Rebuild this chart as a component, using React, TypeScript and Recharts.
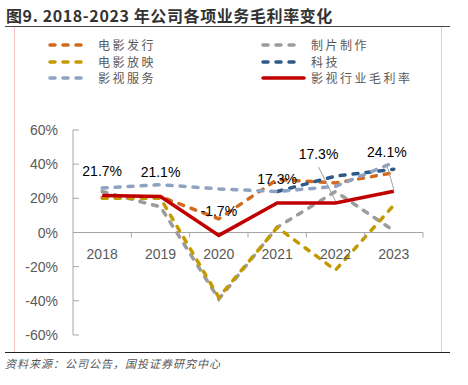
import React from "react";
import {
  LineChart,
  Line,
  XAxis,
  YAxis,
  Legend,
  ReferenceLine,
  LabelList,
} from "recharts";

const years = ["2018", "2019", "2020", "2021", "2022", "2023"];
const filmDistribution = [20.5, 21, 8, 31, 29, 35];
const filmProduction = [24, 15, -39, 3, 24, 1];
const filmScreening = [20, 20, -38, 3, -22, 16];
const technology = [null, null, null, 24, 33, 37];
const filmServices = [26, 28, 25.5, 24, 27, 41];
const industryMargin = [21.7, 21.1, -1.7, 17.3, 17.3, 24.1];
const yTicks = [-60, -40, -20, 0, 20, 40, 60];
const legendOrder = ["电影发行", "制片制作", "电影放映", "科技", "影视服务", "影视行业毛利率"];

const chartData = years.map((year, i) => ({
  year,
  dist: filmDistribution[i],
  prod: filmProduction[i],
  screen: filmScreening[i],
  tech: technology[i],
  service: filmServices[i],
  industry: industryMargin[i],
}));

const W = 468;
const H = 385;
const M = { top: 130, right: 45, bottom: 30, left: 13 };
const Y_AXIS_W = 60;
const X_AXIS_H = 20;
const PLOT_H = H - M.top - M.bottom - X_AXIS_H;
const PLOT_W = W - M.left - M.right - Y_AXIS_W;
const ZERO_Y = M.top + PLOT_H / 2;
const BAND = PLOT_W / years.length;

const AXIS_GREY = "#A6A6A6";
const TEXT_GREY = "#595959";
const FONT = "'Liberation Sans', Arial, sans-serif";
const CJK = "'Noto Sans CJK SC', sans-serif";

const XTick = (props: any) => {
  const { x, payload } = props;
  return (
    <g>
      <line x1={x + BAND / 2} x2={x + BAND / 2} y1={ZERO_Y} y2={ZERO_Y + 5} stroke={AXIS_GREY} />
      <text x={x} y={ZERO_Y + 26} textAnchor="middle" fill={TEXT_GREY} fontSize={14} fontFamily={FONT}>
        {payload.value}
      </text>
    </g>
  );
};

const YTick = (props: any) => {
  const { x, y, payload } = props;
  return (
    <g>
      <line x1={x} x2={x + 6} y1={y} y2={y} stroke={AXIS_GREY} />
      <text x={x - 15} y={y + 5} textAnchor="end" fill={TEXT_GREY} fontSize={14} fontFamily={FONT}>
        {payload.value}%
      </text>
    </g>
  );
};

// labels of the last two points sit higher with a leader line
const labelShift: Record<number, { dx: number; dy: number }> = {
  4: { dx: -17, dy: -49 },
  5: { dx: -7, dy: -39 },
};

const IndustryLabel = (props: any) => {
  const { x, y, value, index } = props;
  const s = labelShift[index];
  const lx = x + (s ? s.dx : 0);
  const ly = y + (s ? s.dy : -24);
  return (
    <g>
      {s && <line x1={lx} y1={ly + 13} x2={x} y2={y - 2} stroke="#A0A0A0" strokeWidth={1} />}
      <text x={lx} y={ly + 5} textAnchor="middle" fill="#000" fontSize={14} fontFamily={FONT}>
        {value}%
      </text>
    </g>
  );
};

const LegendBox = (props: any) => {
  const items = [...(props.payload || [])].sort(
    (a: any, b: any) => legendOrder.indexOf(a.value) - legendOrder.indexOf(b.value)
  );
  return (
    <div
      style={{
        display: "grid",
        gridTemplateColumns: "213px 170px",
        fontFamily: CJK,
        fontSize: 12,
        lineHeight: "14px",
        color: TEXT_GREY,
        letterSpacing: 2.5,
        whiteSpace: "nowrap",
      }}
    >
      {items.map((p: any) => (
        <div key={p.value} style={{ display: "flex", alignItems: "center", height: 16.5 }}>
          <svg width={50} height={8}>
            <line
              x1={2}
              x2={p.payload.strokeDasharray ? 38 : 43}
              y1={4}
              y2={4}
              stroke={p.color}
              strokeWidth={3.5}
              strokeLinecap="round"
              strokeDasharray={p.payload.strokeDasharray}
            />
          </svg>
          <span>{p.value}</span>
        </div>
      ))}
    </div>
  );
};

const DASH = "5 8";

export default function App() {
  return (
    <div
      style={{
        position: "absolute",
        left: 0,
        top: 0,
        width: W,
        height: H,
        background: "#fff",
        overflow: "hidden",
      }}
    >
      <div
        style={{
          position: "absolute",
          left: 6,
          top: 3,
          fontFamily: CJK,
          fontWeight: 700,
          fontSize: 16,
          letterSpacing: 0.6,
          color: "#333",
          whiteSpace: "nowrap",
        }}
      >
        图9. 2018-2023 年公司各项业务毛利率变化
      </div>
      <div style={{ position: "absolute", left: 5, top: 26, width: 445, height: 1, background: "#444" }} />
      <div
        style={{
          position: "absolute",
          left: 14,
          top: 27,
          width: 426,
          height: 325,
          borderLeft: "1px solid #F6C4C4",
          borderRight: "1px solid #F6C4C4",
        }}
      />
      <div style={{ position: "absolute", left: 5, top: 352, width: 445, height: 1, background: "#222" }} />
      <div
        style={{
          position: "absolute",
          left: 5,
          top: 355,
          fontFamily: CJK,
          fontStyle: "italic",
          fontSize: 11,
          color: "#555",
          whiteSpace: "nowrap",
          letterSpacing: 1,
        }}
      >
        资料来源：公司公告，国投证券研究中心
      </div>
      <div style={{ position: "absolute", left: 0, top: 0 }}>
        <LineChart width={W} height={H} data={chartData} margin={M}>
          <XAxis
            dataKey="year"
            height={X_AXIS_H}
            axisLine={false}
            tickLine={false}
            tick={<XTick />}
            interval={0}
            padding={{ left: BAND / 2, right: BAND / 2 }}
          />
          <YAxis
            width={Y_AXIS_W}
            domain={[-60, 60]}
            ticks={yTicks}
            axisLine={{ stroke: AXIS_GREY }}
            tickLine={false}
            tickSize={0}
            tickMargin={0}
            tick={<YTick />}
            interval={0}
          />
          <ReferenceLine y={0} stroke={AXIS_GREY} />
          <Legend
            verticalAlign="middle"
            align="center"
            layout="horizontal"
            wrapperStyle={{ position: "absolute", left: 48, top: 37, width: 400 }}
            content={<LegendBox />}
          />
          <Line dataKey="dist" name="电影发行" stroke="#D2691E" strokeWidth={3.5} strokeDasharray={DASH} strokeLinecap="round" dot={false} isAnimationActive={false} />
          <Line dataKey="prod" name="制片制作" stroke="#9C9C9C" strokeWidth={3.5} strokeDasharray={DASH} strokeLinecap="round" dot={false} isAnimationActive={false} />
          <Line dataKey="screen" name="电影放映" stroke="#C49A00" strokeWidth={3.5} strokeDasharray={DASH} strokeLinecap="round" dot={false} isAnimationActive={false} />
          <Line dataKey="tech" name="科技" stroke="#2E5A88" strokeWidth={3.5} strokeDasharray={DASH} strokeLinecap="round" dot={false} isAnimationActive={false} />
          <Line dataKey="service" name="影视服务" stroke="#8EA2C2" strokeWidth={3.5} strokeDasharray={DASH} strokeLinecap="round" dot={false} isAnimationActive={false} />
          <Line dataKey="industry" name="影视行业毛利率" stroke="#C00000" strokeWidth={3.5} dot={false} isAnimationActive={false}>
            <LabelList dataKey="industry" content={<IndustryLabel />} />
          </Line>
        </LineChart>
      </div>
    </div>
  );
}
